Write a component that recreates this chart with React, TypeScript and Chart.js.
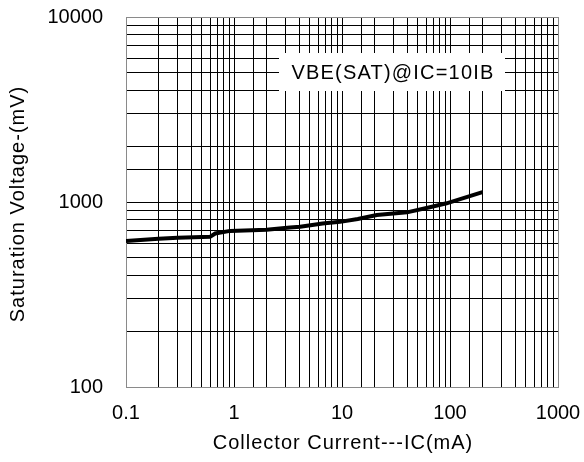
import React, { useEffect, useRef } from "react";
import { Chart, registerables } from "chart.js";

Chart.register(...registerables);

const collectorCurrent = [0.1, 0.2, 0.3, 0.6, 0.67, 0.92, 2, 3.3, 4.1, 6.6, 9.6, 14, 21, 40, 65, 93, 200];
const saturationVoltage = [616, 632, 640, 648, 676, 698, 708, 729, 734, 766, 781, 809, 850, 879, 936, 984, 1130];
const seriesLabel = "VBE(SAT)@IC=10IB";
const xTitle = "Collector Current---IC(mA)";
const yTitle = "Saturation Voltage-(mV)";
const xMin = 0.1, xMax = 1000;
const yMin = 100, yMax = 10000;

const FONT = '"Liberation Sans", Arial, sans-serif';

const isDecade = (v: number) => {
  const l = Math.log10(v);
  return Math.abs(l - Math.round(l)) < 1e-6;
};
const fmt = (v: number) => {
  if (!isDecade(v)) return "";
  const p = Math.round(Math.log10(v));
  return p < 0 ? (Math.pow(10, p)).toFixed(-p) : String(Math.pow(10, p));
};

const overlayPlugin = {
  id: "overlay",
  afterDraw(chart: any) {
    const { ctx, chartArea } = chart;
    ctx.save();
    // legend box
    const bx = 279, by = 53, bw = 226, bh = 38;
    ctx.fillStyle = "#fff";
    ctx.fillRect(bx, by, bw, bh);
    ctx.fillStyle = "#000";
    ctx.font = `20px ${FONT}`;
    (ctx as any).letterSpacing = "1.2px";
    ctx.textAlign = "center";
    ctx.textBaseline = "middle";
    ctx.fillText(seriesLabel, bx + bw / 2 + 1, by + bh / 2 + 1);
    // x title
    (ctx as any).letterSpacing = "1px";
    ctx.fillText(xTitle, (chartArea.left + chartArea.right) / 2 + 1, 443);
    // y title
    ctx.translate(18, (chartArea.top + chartArea.bottom) / 2 + 2);
    ctx.rotate(-Math.PI / 2);
    ctx.fillText(yTitle, 0, 0);
    ctx.restore();
  },
};

export default function App() {
  const ref = useRef<HTMLCanvasElement>(null);
  useEffect(() => {
    if (!ref.current) return;
    const edgeColor = (ctx: any) => {
      const n = ctx.scale.ticks.length;
      return ctx.index === 0 || ctx.index === n - 1 ? "#8a8a8a" : "#000";
    };
    const chart = new Chart(ref.current, {
      type: "line",
      data: {
        datasets: [
          {
            label: seriesLabel,
            data: collectorCurrent.map((x, i) => ({ x, y: saturationVoltage[i] })),
            borderColor: "#000",
            borderWidth: 4,
            pointRadius: 0,
            tension: 0,
            fill: false,
          },
        ],
      },
      options: {
        animation: false,
        responsive: false,
        devicePixelRatio: 1,
        layout: { padding: { top: 17, right: 26, left: 0, bottom: 0 } },
        plugins: { legend: { display: false }, tooltip: { enabled: false } },
        scales: {
          x: {
            type: "logarithmic",
            min: xMin,
            max: xMax,
            afterFit: (s: any) => {
              s.height = 75;
              s.paddingLeft = 0;
              s.paddingRight = 0;
              s.paddingTop = 0;
              s.paddingBottom = 0;
            },
            grid: { color: edgeColor, lineWidth: 1, drawTicks: false },
            border: { color: "#8a8a8a", width: 1 },
            ticks: {
              autoSkip: false,
              maxRotation: 0,
              padding: 14,
              color: "#000",
              font: { family: FONT, size: 20 },
              callback: (v: any) => fmt(Number(v)),
            },
          },
          y: {
            type: "logarithmic",
            min: yMin,
            max: yMax,
            afterFit: (s: any) => {
              s.width = 126;
              s.paddingLeft = 0;
              s.paddingRight = 0;
              s.paddingTop = 0;
              s.paddingBottom = 0;
            },
            grid: { color: edgeColor, lineWidth: 1, drawTicks: false },
            border: { color: "#8a8a8a", width: 1 },
            ticks: {
              autoSkip: false,
              padding: 23,
              color: "#000",
              font: { family: FONT, size: 20 },
              callback: (v: any) => fmt(Number(v)),
            },
          },
        },
      },
      plugins: [overlayPlugin],
    } as any);
    return () => chart.destroy();
  }, []);
  return (
    <div style={{ position: "absolute", left: 0, top: 0, width: 584, height: 462, background: "#fff" }}>
      <canvas ref={ref} width={584} height={462} style={{ width: 584, height: 462 }} />
    </div>
  );
}
